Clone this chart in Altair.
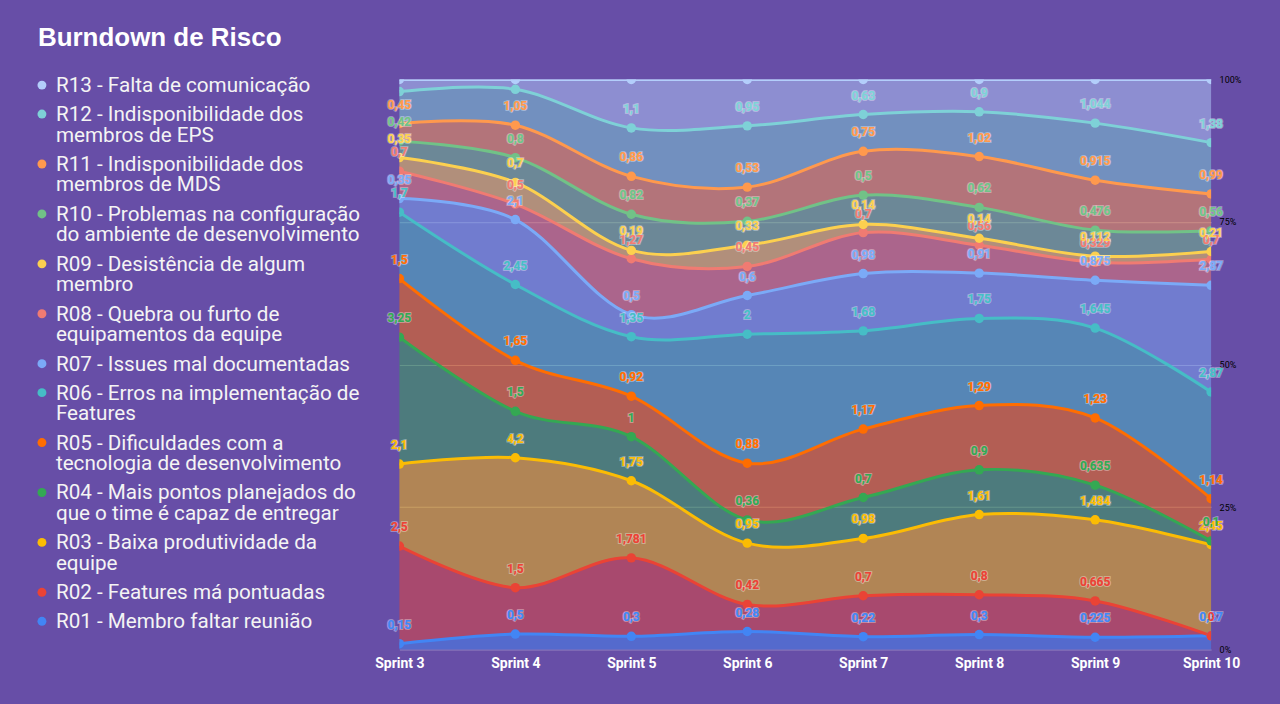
import altair as alt
import pandas as pd

# ---------------- data ----------------
sprints = ["Sprint 3", "Sprint 4", "Sprint 5", "Sprint 6", "Sprint 7", "Sprint 8", "Sprint 9", "Sprint 10"]

series = ["R01", "R02", "R03", "R04", "R05", "R06", "R07", "R08", "R09", "R10", "R11", "R12", "R13"]

legend_labels = [
    "R01 - Membro faltar reunião",
    "R02 - Features má pontuadas",
    "R03 - Baixa produtividade da\nequipe",
    "R04 - Mais pontos planejados do\nque o time é capaz de entregar",
    "R05 - Dificuldades com a\ntecnologia de desenvolvimento",
    "R06 - Erros na implementação de\nFeatures",
    "R07 - Issues mal documentadas",
    "R08 - Quebra ou furto de\nequipamentos da equipe",
    "R09 - Desistência de algum\nmembro",
    "R10 - Problemas na configuração\ndo ambiente de desenvolvimento",
    "R11 - Indisponibilidade dos\nmembros de MDS",
    "R12 - Indisponibilidade dos\nmembros de EPS",
    "R13 - Falta de comunicação",
]

colors = ["#4285f4", "#ea4335", "#fbbc04", "#34a853", "#ff6d01", "#46bdc6", "#7baaf7",
          "#f07b72", "#fcd04f", "#71c287", "#ff994d", "#7ed1d7", "#b3cefb"]

r01 = [0.15, 0.5, 0.3, 0.28, 0.22, 0.3, 0.225, 0.37]
r02 = [2.5, 1.5, 1.781, 0.42, 0.7, 0.8, 0.665, 0]
r03 = [2.1, 4.2, 1.75, 0.95, 0.98, 1.61, 1.484, 2.45]
r04 = [3.25, 1.5, 1, 0.36, 0.7, 0.9, 0.635, 0.1]
r05 = [1.5, 1.65, 0.92, 0.88, 1.17, 1.29, 1.23, 1.14]
r06 = [1.7, 2.45, 1.35, 2, 1.68, 1.75, 1.645, 2.87]
r07 = [0.35, 2.1, 0.5, 0.6, 0.98, 0.91, 0.875, 2.87]
r08 = [0.7, 0.5, 1.27, 0.45, 0.7, 0.56, 0.329, 0.7]
r09 = [0.35, 0.7, 0.19, 0.33, 0.14, 0.14, 0.112, 0.21]
r10 = [0.42, 0.8, 0.82, 0.37, 0.5, 0.62, 0.476, 0.56]
r11 = [0.45, 1.05, 0.86, 0.53, 0.75, 1.02, 0.915, 0.99]
r12 = [0.82, 1.16, 1.1, 0.95, 0.63, 0.9, 1.044, 1.38]
r13 = [0.31, 0.32, 1.1, 0.72, 0.6, 0.65, 0.8, 1.7]

values = [r01, r02, r03, r04, r05, r06, r07, r08, r09, r10, r11, r12, r13]

rows = []
for i, (s, vals) in enumerate(zip(series, values)):
    for sp, v in zip(sprints, vals):
        rows.append({"sprint": sp, "series": s, "order": i, "value": v})
df = pd.DataFrame(rows)

leg_df = pd.DataFrame({"series": series, "label": legend_labels, "order": list(range(len(series)))})

# ---------------- layout constants ----------------
BG = "#674ea7"
PLOT_W, PLOT_H = 813, 571
LEG_W = 380
LABEL_DY = -19

color = alt.Color("series:N", scale=alt.Scale(domain=series, range=colors), legend=None)

x_enc = alt.X(
    "sprint:O", sort=sprints, scale=alt.Scale(type="point", padding=0),
    axis=alt.Axis(title=None, labelAngle=0, labelColor="white", labelFontSize=14,
                  labelFontWeight="bold", labelFont="Roboto", domain=False, ticks=False,
                  tickSize=0, labelPadding=7, grid=False),
)
y_axis = alt.Axis(orient="right", title=None, values=[0, 0.25, 0.5, 0.75, 1], format="%",
                  labelColor="black", labelFontSize=9, labelFont="Roboto", domain=False,
                  ticks=False, tickSize=0, labelPadding=8, labelFlush=False, labelOverlap=False,
                  grid=True, gridColor="#ffffff", gridOpacity=0.3, gridWidth=1)
y_enc = alt.Y("y1:Q", scale=alt.Scale(domain=[0, 1], nice=False), axis=y_axis, stack=None)

base = alt.Chart(df).transform_stack(
    stack="value", groupby=["sprint"], sort=[alt.SortField("order", order="ascending")],
    as_=["y0", "y1"], offset="normalize",
).transform_calculate(label="replace(toString(datum.value), '.', ',')")

# labels that would sit above the top of the plot are not drawn (as in the reference)
label_base = base.transform_filter(f"datum.y1 <= 1 - {(-LABEL_DY - 2) / PLOT_H}")

areas = base.mark_area(interpolate="cardinal", opacity=0.5).encode(
    x=x_enc, y=y_enc, y2="y0:Q", color=color)
lines = base.mark_line(interpolate="cardinal", strokeWidth=3, clip=True).encode(
    x=x_enc, y=y_enc, color=color)
points = base.mark_circle(size=90, opacity=1, clip=True).encode(
    x=x_enc, y=y_enc, color=color)
halo = label_base.mark_text(dy=LABEL_DY, fontSize=12, fontWeight="bold", font="Roboto",
                            stroke="#ffffff", strokeWidth=2.2, strokeOpacity=0.35).encode(
    x=x_enc, y=y_enc, text="label:N", color=color)
labels = label_base.mark_text(dy=LABEL_DY, fontSize=12, fontWeight="bold", font="Roboto").encode(
    x=x_enc, y=y_enc, text="label:N", color=color)

plot = alt.layer(areas, lines, points, halo, labels).properties(width=PLOT_W, height=PLOT_H)

# ---------------- legend panel ----------------
leg_base = alt.Chart(leg_df).transform_calculate(
    nlines="length(split(datum.label, '\\n'))"
).transform_calculate(
    step="29 + 21 * (datum.nlines - 1)"
).transform_window(
    cum="sum(step)", sort=[alt.SortField("order", order="descending")], frame=[None, 0]
).transform_calculate(pos="datum.cum - datum.step")

leg_y = alt.Y("pos:Q", scale=alt.Scale(domain=[0, PLOT_H], range=[5.7, PLOT_H + 5.7]), axis=None)

leg_dots = leg_base.mark_circle(size=80, opacity=1).encode(
    x=alt.value(42), y=leg_y, color=color)
leg_text = leg_base.mark_text(align="left", baseline="alphabetic", dy=7, fontSize=20.7,
                              lineBreak="\n", lineHeight=20.5, font="Roboto", color="#f4f4f4").encode(
    x=alt.value(56), y=leg_y, text="label:N")

legend_panel = alt.layer(leg_dots, leg_text).properties(width=LEG_W, height=PLOT_H)

chart = alt.hconcat(legend_panel, plot, spacing=20, bounds="flush").properties(
    title=alt.TitleParams("Burndown de Risco", anchor="start", fontSize=26, font="Liberation Sans",
                          fontWeight="bold", color="white", dx=38, offset=24, baseline="top"),
    padding={"left": 0, "top": 24, "right": 39, "bottom": 39},
).configure(background=BG).configure_view(strokeWidth=0)

chart.save("out.html", embed_options={"renderer": "svg", "actions": False})
